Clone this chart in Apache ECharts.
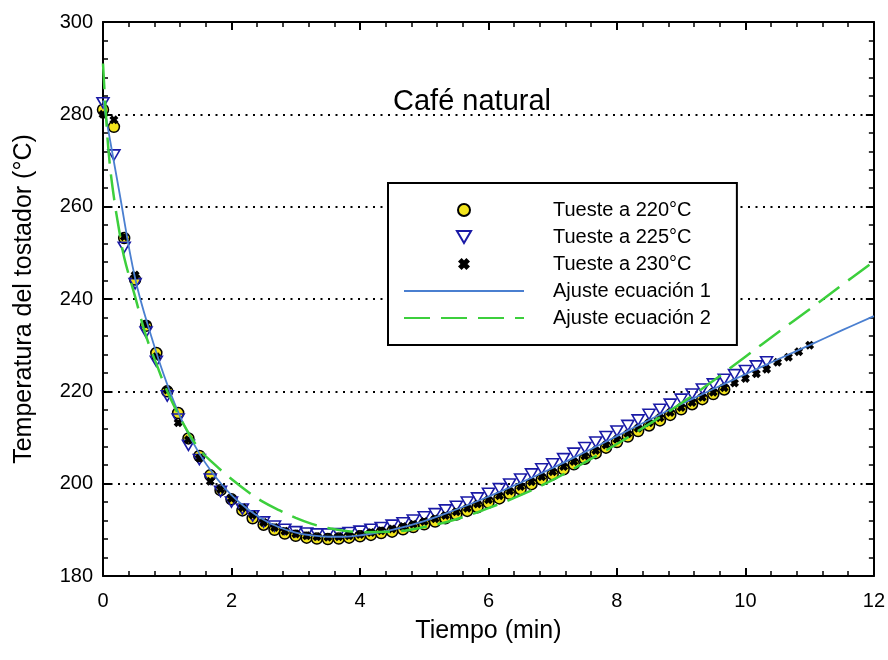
<!DOCTYPE html>
<html>
<head>
<meta charset="utf-8">
<script src="https://cdn.jsdelivr.net/npm/echarts@6/dist/echarts.min.js"></script>
<style>
html,body{margin:0;padding:0;background:#fff;}
#chart{width:888px;height:660px;}
</style>
</head>
<body>
<div id="chart"></div>
<script>
// ---- Data ----
const tiempo = [0, 0.17, 0.33, 0.5, 0.67, 0.83, 1, 1.17, 1.33, 1.5, 1.67, 1.83, 2, 2.17, 2.33, 2.5, 2.67, 2.83, 3, 3.17, 3.33, 3.5, 3.67, 3.83, 4, 4.17, 4.33, 4.5, 4.67, 4.83, 5, 5.17, 5.33, 5.5, 5.67, 5.83, 6, 6.17, 6.33, 6.5, 6.67, 6.83, 7, 7.17, 7.33, 7.5, 7.67, 7.83, 8, 8.17, 8.33, 8.5, 8.67, 8.83, 9, 9.17, 9.33, 9.5, 9.67, 9.83, 10, 10.17, 10.33, 10.5, 10.67, 10.83, 11];

const tueste220 = [281, 277.3, 253.2, 244.2, 234.2, 228.3, 220, 215.3, 209.8, 206, 201.8, 198.6, 196.6, 194.2, 192.5, 191.1, 190, 189.2, 188.7, 188.3, 188.1, 188.0, 188.1, 188.3, 188.6, 188.9, 189.3, 189.6, 190.1, 190.6, 191.2, 191.8, 192.5, 193.3, 194.1, 194.9, 195.9, 196.8, 197.8, 198.8, 199.9, 200.9, 202.0, 203.1, 204.2, 205.4, 206.6, 207.8, 209.0, 210.2, 211.4, 212.6, 213.7, 214.9, 216.1, 217.2, 218.3, 219.4, 220.4];

const tueste225 = [282.5, 271.2, 251.2, 243.3, 232.8, 226.5, 219, 214, 208.3, 205.2, 201, 198.3, 196, 194.5, 193, 191.7, 190.8, 190.1, 189.6, 189.3, 189.1, 189.1, 189.2, 189.4, 189.7, 190.1, 190.5, 191.0, 191.5, 192.1, 192.8, 193.5, 194.3, 195.1, 196.0, 196.9, 197.9, 198.9, 199.9, 201.0, 202.1, 203.2, 204.3, 205.4, 206.6, 207.8, 209.0, 210.2, 211.4, 212.6, 213.8, 215.0, 216.1, 217.2, 218.3, 219.4, 220.5, 221.6, 222.6, 223.6, 224.5, 225.5, 226.4];

const tueste230 = [280, 278.8, 253.5, 245.2, 234.5, 227.5, 220.3, 213.2, 209.5, 205.5, 200.5, 198.8, 196.8, 194.8, 193.2, 191.6, 190.5, 189.7, 189.1, 188.7, 188.5, 188.4, 188.5, 188.7, 189.0, 189.4, 189.8, 190.2, 190.7, 191.2, 191.8, 192.4, 193.1, 193.9, 194.7, 195.6, 196.5, 197.4, 198.4, 199.4, 200.4, 201.5, 202.6, 203.7, 204.8, 206.0, 207.2, 208.4, 209.6, 210.8, 212.0, 213.2, 214.3, 215.4, 216.5, 217.6, 218.7, 219.8, 220.8, 221.8, 222.8, 223.8, 224.8, 226.3, 227.4, 228.6, 230.0];

const ajuste1T = [0, 0.25, 0.5, 0.75, 1, 1.25, 1.5, 1.75, 2, 2.25, 2.5, 2.75, 3, 3.25, 3.5, 3.75, 4, 4.5, 5, 5.5, 6, 6.5, 7, 7.5, 8, 8.5, 9, 9.5, 10, 10.5, 11, 11.5, 12];
const ajuste1V = [283, 263.5, 244.5, 232, 221.5, 213, 206.5, 201.5, 197.5, 194.5, 192.2, 190.5, 189.4, 188.8, 188.5, 188.5, 188.8, 190, 191.9, 194.4, 197.2, 200.2, 203.4, 206.8, 210.3, 213.8, 217.2, 220.5, 223.7, 226.9, 230, 233.2, 236.3];

const ajuste2T = [0, 0.05, 0.1, 0.17, 0.25, 0.33, 0.5, 0.67, 0.83, 1, 1.25, 1.5, 1.75, 2, 2.25, 2.5, 2.75, 3, 3.25, 3.5, 3.75, 4, 4.5, 5, 5.5, 6, 6.5, 7, 7.5, 8, 8.5, 9, 9.5, 10, 10.5, 11, 11.5, 12];
const ajuste2V = [291, 279, 270, 262, 255, 249, 240.5, 232, 226, 220, 213, 207.5, 204, 201, 198.3, 196, 194.2, 192.6, 191.3, 190.4, 189.8, 189.5, 189.6, 190.6, 192.3, 194.7, 197.5, 200.8, 204.6, 208.6, 212.9, 217.4, 222.3, 227.5, 232.7, 237.8, 243, 248.1];

const nombres = ['Tueste a 220°C', 'Tueste a 225°C', 'Tueste a 230°C', 'Ajuste ecuación 1', 'Ajuste ecuación 2'];
const xTicks = {min: 0, max: 12, interval: 2};
const yTicks = {min: 180, max: 300, interval: 20};
const titulo = 'Café natural';
const xNombre = 'Tiempo (min)';
const yNombre = 'Temperatura del tostador (°C)';

// ---- Build ----
const pair = (ts, vs) => vs.map((v, i) => [ts[i], v]);
const FONT = '"Liberation Sans", Arial, sans-serif';
const crossPath = 'path://M0,0.3L0.3,0L1,0.7L0.7,1Z M0.7,0L1,0.3L0.3,1L0,0.7Z';
const triDownPath = 'path://M0,0L1,0L0.5,0.85Z';

function axisCommon(showLabel) {
  return {
    axisLine: {show: true, onZero: false, lineStyle: {color: '#000', width: 2}},
    axisTick: {show: true, inside: true, length: 8, lineStyle: {color: '#000', width: 2}},
    minorTick: {show: true, splitNumber: 5, length: 5, lineStyle: {color: '#000', width: 1.5}},
    axisLabel: {show: showLabel, color: '#000', fontFamily: FONT, fontSize: 20},
  };
}

const chart = echarts.init(document.getElementById('chart'), null, {renderer: 'canvas'});
chart.setOption({
  animation: false,
  backgroundColor: '#fff',
  title: {
    text: titulo, left: 388, top: 82,
    textStyle: {fontFamily: FONT, fontSize: 29, fontWeight: 'normal', color: '#000'}
  },
  grid: {left: 103, top: 22, right: 13, bottom: 84},
  legend: {
    orient: 'vertical', left: 388, top: 183,
    data: [
      {name: nombres[0]},
      {name: nombres[1]},
      {name: nombres[2]},
      {name: nombres[3], itemStyle: {opacity: 0}},
      {name: nombres[4], itemStyle: {opacity: 0}}
    ],
    padding: [16, 26, 16, 15],
    itemWidth: 120, itemHeight: 12, itemGap: 5,
    borderColor: '#000', borderWidth: 2, backgroundColor: '#fff',
    textStyle: {fontFamily: FONT, fontSize: 20, color: '#000', lineHeight: 22, padding: [0, 0, 0, 24]},
    selectedMode: false
  },
  xAxis: [
    Object.assign({type: 'value', position: 'bottom', min: xTicks.min, max: xTicks.max, interval: xTicks.interval,
      name: xNombre, nameLocation: 'middle', nameGap: 43,
      nameTextStyle: {fontFamily: FONT, fontSize: 25, color: '#000'},
      splitLine: {show: false}}, axisCommon(true),
      {axisLabel: {color: '#000', fontFamily: FONT, fontSize: 20, margin: 15}}),
    Object.assign({type: 'value', position: 'top', min: xTicks.min, max: xTicks.max, interval: xTicks.interval,
      splitLine: {show: false}}, axisCommon(false))
  ],
  yAxis: [
    Object.assign({type: 'value', position: 'left', min: yTicks.min, max: yTicks.max, interval: yTicks.interval,
      name: yNombre, nameLocation: 'middle', nameGap: 66,
      nameTextStyle: {fontFamily: FONT, fontSize: 25, color: '#000'},
      splitLine: {show: true, lineStyle: {color: '#000', width: 2, type: [2, 5.5]}}}, axisCommon(true),
      {axisLabel: {color: '#000', fontFamily: FONT, fontSize: 20, margin: 10}}),
    Object.assign({type: 'value', position: 'right', min: yTicks.min, max: yTicks.max, interval: yTicks.interval,
      splitLine: {show: false}}, axisCommon(false))
  ],
  series: [
    {
      name: nombres[0], type: 'scatter', data: pair(tiempo, tueste220),
      symbol: 'circle', symbolSize: 11,
      itemStyle: {color: '#f2e41c', borderColor: '#000', borderWidth: 1.5, opacity: 1},
      emphasis: {disabled: true}, z: 2
    },
    {
      name: nombres[1], type: 'scatter', data: pair(tiempo, tueste225),
      symbol: triDownPath, symbolSize: 12, symbolKeepAspect: true,
      itemStyle: {color: 'rgba(0,0,0,0)', borderColor: '#1a1aa6', borderWidth: 1.6, opacity: 1},
      emphasis: {disabled: true}, z: 3
    },
    {
      name: nombres[2], type: 'scatter', data: pair(tiempo, tueste230),
      symbol: crossPath, symbolSize: 9, symbolKeepAspect: true,
      itemStyle: {color: '#000', opacity: 1},
      emphasis: {disabled: true}, z: 4
    },
    {
      name: nombres[3], type: 'line', data: pair(ajuste1T, ajuste1V),
      smooth: 0.4, symbol: 'none', showSymbol: false, clip: true,
      lineStyle: {color: '#4a7fd0', width: 1.8},
      itemStyle: {color: 'rgba(0,0,0,0)'},
      emphasis: {disabled: true}, z: 5
    },
    {
      name: nombres[4], type: 'line', data: pair(ajuste2T, ajuste2V),
      smooth: 0.4, symbol: 'none', showSymbol: false, clip: true,
      lineStyle: {color: '#3ccf3c', width: 2.5, type: [26, 11]},
      itemStyle: {color: 'rgba(0,0,0,0)'},
      emphasis: {disabled: true}, z: 6
    }
  ]
});
</script>
</body>
</html>
